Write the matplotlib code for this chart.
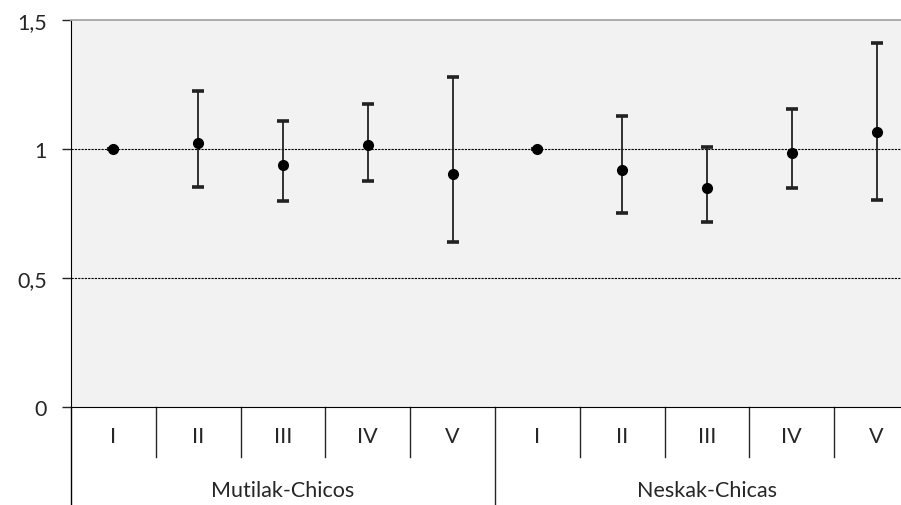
import numpy as np
import matplotlib
matplotlib.use("Agg")
import matplotlib.pyplot as plt
import matplotlib.transforms as mtransforms

plt.rcParams["font.family"] = ["Lato", "DejaVu Sans"]

# ── data ──────────────────────────────────────────────────────────────────────
groups = ["Mutilak-Chicos", "Neskak-Chicas"]
levels = ["I", "II", "III", "IV", "V"]

mutilak_mean = [1.000, 1.022, 0.939, 1.016, 0.903]
mutilak_low  = [1.000, 0.854, 0.798, 0.875, 0.641]
mutilak_high = [1.000, 1.224, 1.107, 1.174, 1.278]

neskak_mean = [1.000, 0.919, 0.848, 0.986, 1.066]
neskak_low  = [1.000, 0.753, 0.718, 0.849, 0.803]
neskak_high = [1.000, 1.128, 1.007, 1.154, 1.411]

yticks      = [0, 0.5, 1, 1.5]
ytick_names = ["0", "0,5", "1", "1,5"]

# ── layout (pixel based) ──────────────────────────────────────────────────────
W, H = 901, 506
x0, x1 = 71, 919          # plot area runs past the right edge
y_top, y_bot = 21, 408
FS = 15.5
TXT = "#262626"

fig = plt.figure(figsize=(W / 100, H / 100), dpi=100)
ax = fig.add_axes([x0 / W, (H - y_bot) / H, (x1 - x0) / W, (y_bot - y_top) / H])
ax.set_facecolor("#F2F2F2")

mean = np.array(mutilak_mean + neskak_mean)
low  = np.array(mutilak_low + neskak_low)
high = np.array(mutilak_high + neskak_high)
xpos = np.arange(len(mean))

for y in (0.5, 1.0):
    ax.axhline(y, color="black", lw=0.8, ls=(0, (2, 1)), zorder=1)

ax.errorbar(xpos, mean, yerr=[mean - low, high - mean], fmt="o",
            color="black", ecolor="#222222", elinewidth=1.3,
            capsize=4.2, capthick=2.6, markersize=7, zorder=3)

ax.set_xlim(-0.5, len(mean) - 0.5)
ax.set_ylim(0, 1.5)
ax.set_yticks(yticks)
ax.set_yticklabels(ytick_names, fontsize=FS, color=TXT)
ax.tick_params(axis="y", length=6.5, width=1, pad=11, color=TXT)
ax.set_xticks([])

ax.spines["right"].set_visible(False)
ax.spines["top"].set_color("#A6A6A6")
ax.spines["top"].set_linewidth(1.3)
ax.spines["left"].set_color("black")
ax.spines["bottom"].set_color("black")

# ── two-tier category axis ────────────────────────────────────────────────────
ph = y_bot - y_top
trans = mtransforms.blended_transform_factory(ax.transData, ax.transAxes)
inner_y = -(458 - y_bot) / ph
outer_y = -(H - y_bot + 2) / ph

for i in range(1, len(mean)):
    xb = i - 0.5
    y_end = outer_y if i % len(levels) == 0 else inner_y
    ax.plot([xb, xb], [0, y_end], transform=trans, color=TXT,
            lw=1, clip_on=False)
ax.plot([-0.5, -0.5], [0, outer_y], transform=trans, color="black",
        lw=1, clip_on=False)

for i in range(len(mean)):
    ax.text(i, -(437 - y_bot) / ph, levels[i % len(levels)], transform=trans,
            ha="center", va="center", fontsize=FS, color=TXT)

for g, name in enumerate(groups):
    xc = g * len(levels) + (len(levels) - 1) / 2
    ax.text(xc, -(491 - y_bot) / ph, name, transform=trans,
            ha="center", va="center", fontsize=FS, color=TXT)

fig.savefig("out.png", dpi=100)
